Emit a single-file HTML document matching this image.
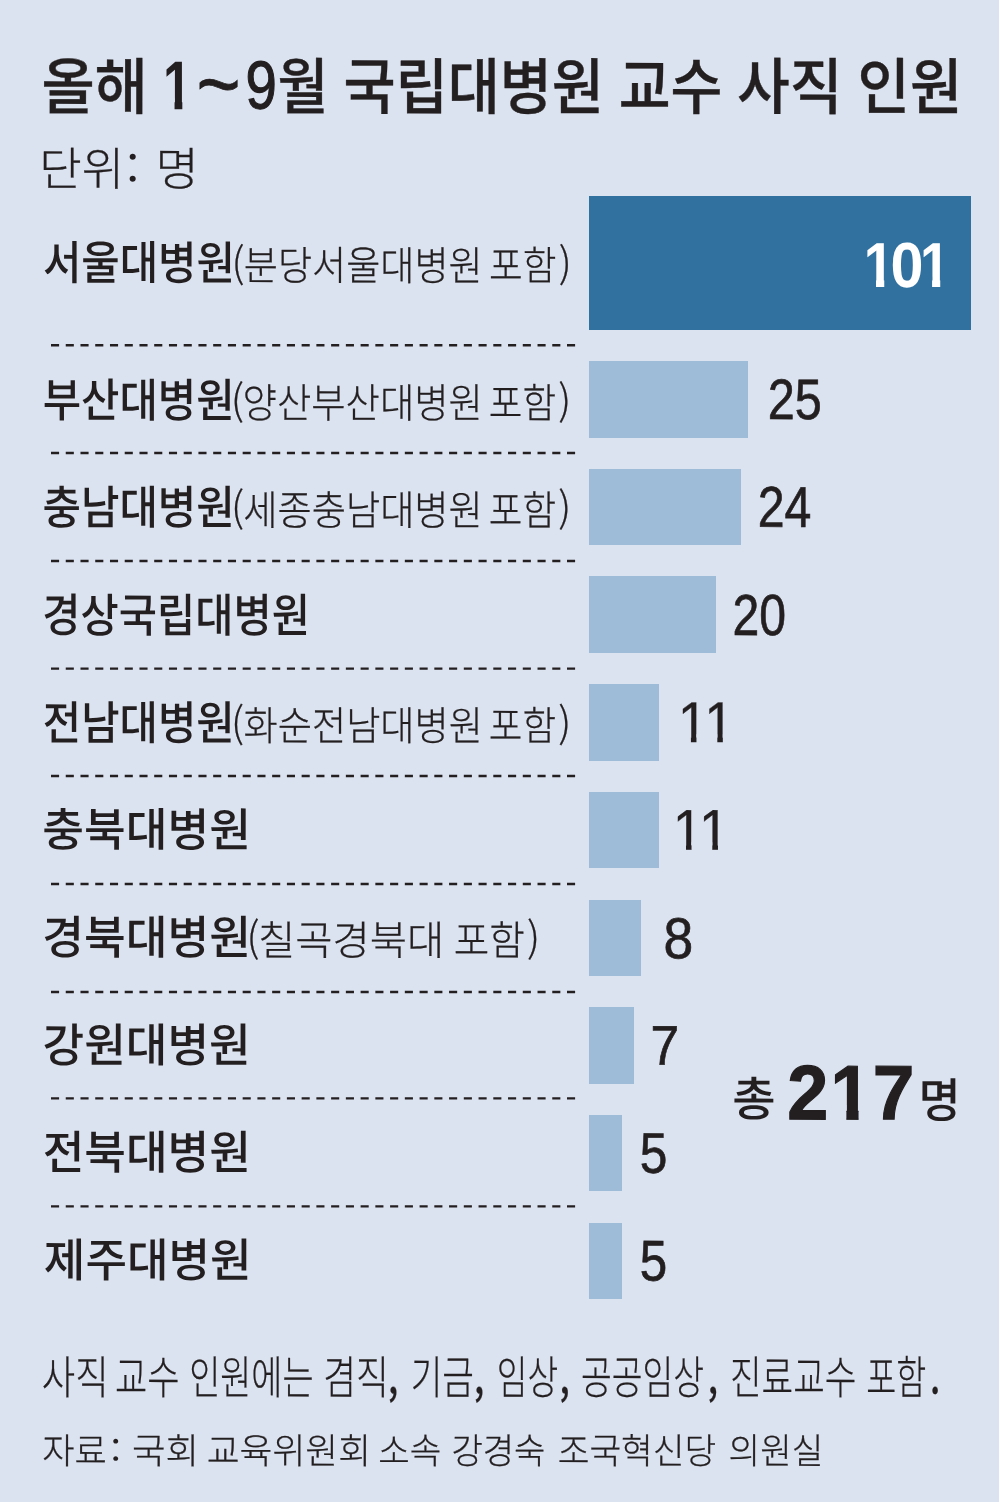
<!DOCTYPE html>
<html lang="ko">
<head>
<meta charset="utf-8">
<title>올해 1~9월 국립대병원 교수 사직 인원</title>
<style>
html,body{margin:0;padding:0;}
body{width:1000px;height:1502px;background:#dce3f0;position:relative;overflow:hidden;color:#231f20;font-family:"Liberation Sans","Noto Sans CJK KR",sans-serif;}
/* every text run is absolutely placed: translate(x,y) scaleX(condense); the tiny rotate keeps glyph rasterisation sub-pixel accurate */
.ln{position:absolute;left:0;top:0;margin:0;white-space:nowrap;line-height:1;}
.ln span{position:absolute;left:0;top:0;display:block;transform-origin:0 0;white-space:pre;line-height:1;}
/* Liberation Sans "1" has a foot serif; the reference face does not, so clip it away */
.o4{clip-path:polygon(-5% 0,105% 0,105% 70%,62.4% 70%,62.4% 100%,43.9% 100%,43.9% 70%,-5% 70%);}
.o7{clip-path:polygon(-5% 0,105% 0,105% 68%,68% 68%,68% 100%,40.6% 100%,40.6% 68%,-5% 68%);}
.o7s{clip-path:polygon(-5% 0,105% 0,105% 66%,69.4% 66%,69.4% 100%,39.2% 100%,39.2% 66%,-5% 66%);}
.bar{position:absolute;left:589px;background:#9ebcd8;}
.bar.d{background:#3171a0;}
.edge{position:absolute;left:999px;top:0;width:1px;height:1502px;background:#fdfeff;}
svg.dl{position:absolute;left:0;top:0;}
.ln span.pm{font-weight:500;}
.tk{font:500 61.29px/1 "Noto Sans CJK KR","Liberation Sans",sans-serif;-webkit-text-stroke:0.4px #231f20;}
.t1{font:700 69.18px/1 "Liberation Sans",sans-serif;}
.tt{font:400 88.66px/1 "Liberation Sans",sans-serif;-webkit-text-stroke:0.8px #231f20;}
.t9{font:400 67.93px/1 "Liberation Sans",sans-serif;-webkit-text-stroke:1.2px #231f20;}
.unit{font:300 45.93px/1 "Noto Sans CJK KR","Liberation Sans",sans-serif;-webkit-text-stroke:0.3px #231f20;}
.uc{font:400 42.89px/1 "Noto Sans CJK KR","Liberation Sans",sans-serif;}
.lb1{font:500 45.88px/1 "Noto Sans CJK KR","Liberation Sans",sans-serif;}
.lb2{font:500 45.99px/1 "Noto Sans CJK KR","Liberation Sans",sans-serif;}
.lb3{font:500 45.94px/1 "Noto Sans CJK KR","Liberation Sans",sans-serif;}
.lb4{font:500 46.08px/1 "Noto Sans CJK KR","Liberation Sans",sans-serif;}
.lb5{font:500 46.11px/1 "Noto Sans CJK KR","Liberation Sans",sans-serif;}
.lb6{font:500 45.61px/1 "Noto Sans CJK KR","Liberation Sans",sans-serif;}
.lb7{font:500 46.05px/1 "Noto Sans CJK KR","Liberation Sans",sans-serif;}
.lb8{font:500 46.08px/1 "Noto Sans CJK KR","Liberation Sans",sans-serif;}
.lb9{font:500 46.05px/1 "Noto Sans CJK KR","Liberation Sans",sans-serif;}
.lb10{font:500 45.96px/1 "Noto Sans CJK KR","Liberation Sans",sans-serif;}
.ll1{font:300 40.23px/1 "Noto Sans CJK KR","Liberation Sans",sans-serif;-webkit-text-stroke:0.3px #231f20;}
.lp1{font:300 41.13px/1 "Noto Sans CJK KR","Liberation Sans",sans-serif;-webkit-text-stroke:0.3px #231f20;}
.ll2{font:300 40.76px/1 "Noto Sans CJK KR","Liberation Sans",sans-serif;-webkit-text-stroke:0.3px #231f20;}
.lp2{font:300 41.42px/1 "Noto Sans CJK KR","Liberation Sans",sans-serif;-webkit-text-stroke:0.3px #231f20;}
.ll3{font:300 40.83px/1 "Noto Sans CJK KR","Liberation Sans",sans-serif;-webkit-text-stroke:0.3px #231f20;}
.lp3{font:300 41.31px/1 "Noto Sans CJK KR","Liberation Sans",sans-serif;-webkit-text-stroke:0.3px #231f20;}
.ll5{font:300 40.19px/1 "Noto Sans CJK KR","Liberation Sans",sans-serif;-webkit-text-stroke:0.3px #231f20;}
.lp5{font:300 41.43px/1 "Noto Sans CJK KR","Liberation Sans",sans-serif;-webkit-text-stroke:0.3px #231f20;}
.ll7{font:300 40.64px/1 "Noto Sans CJK KR","Liberation Sans",sans-serif;-webkit-text-stroke:0.3px #231f20;}
.lp7{font:300 41.11px/1 "Noto Sans CJK KR","Liberation Sans",sans-serif;-webkit-text-stroke:0.3px #231f20;}
.n1{font:700 63.70px/1 "Liberation Sans",sans-serif;color:#fff;}
.n2{font:400 57.09px/1 "Liberation Sans",sans-serif;-webkit-text-stroke:0.7px #231f20;}
.n3{font:400 57.56px/1 "Liberation Sans",sans-serif;-webkit-text-stroke:0.7px #231f20;}
.n4{font:400 57.83px/1 "Liberation Sans",sans-serif;-webkit-text-stroke:0.7px #231f20;}
.n7{font:400 57.72px/1 "Liberation Sans",sans-serif;-webkit-text-stroke:0.7px #231f20;}
.n8{font:400 55.90px/1 "Liberation Sans",sans-serif;-webkit-text-stroke:0.7px #231f20;}
.n9{font:400 57.10px/1 "Liberation Sans",sans-serif;-webkit-text-stroke:0.7px #231f20;}
.n10{font:400 57.48px/1 "Liberation Sans",sans-serif;-webkit-text-stroke:0.7px #231f20;}
.n5{font:400 57.49px/1 "Liberation Sans",sans-serif;-webkit-text-stroke:0.3px #231f20;}
.n6{font:400 57.63px/1 "Liberation Sans",sans-serif;-webkit-text-stroke:0.3px #231f20;}
.tot1{font:500 47.02px/1 "Noto Sans CJK KR","Liberation Sans",sans-serif;}
.totn{font:700 77.10px/1 "Liberation Sans",sans-serif;-webkit-text-stroke:1.2px #231f20;}
.tot2{font:500 47.13px/1 "Noto Sans CJK KR","Liberation Sans",sans-serif;}
.note{font:300 45.91px/1 "Noto Sans CJK KR","Liberation Sans",sans-serif;-webkit-text-stroke:0.3px #231f20;}
.sc{font:400 33.48px/1 "Noto Sans CJK KR","Liberation Sans",sans-serif;}
.src{font:300 35.84px/1 "Noto Sans CJK KR","Liberation Sans",sans-serif;-webkit-text-stroke:0.3px #231f20;}
</style>
</head>
<body>
<div class="bar d" style="top:195.5px;width:382.2px;height:134.5px"></div>
<div class="bar" style="top:361.4px;width:158.6px;height:76.6px"></div>
<div class="bar" style="top:469.2px;width:152px;height:75.8px"></div>
<div class="bar" style="top:576px;width:127px;height:76.6px"></div>
<div class="bar" style="top:684px;width:70px;height:77px"></div>
<div class="bar" style="top:792px;width:70px;height:76px"></div>
<div class="bar" style="top:900px;width:52px;height:76px"></div>
<div class="bar" style="top:1006.6px;width:45px;height:77.4px"></div>
<div class="bar" style="top:1114.6px;width:32.6px;height:76.9px"></div>
<div class="bar" style="top:1222.5px;width:32.6px;height:76px"></div>
<div class="edge"></div>
<svg class="dl" width="1000" height="1502" viewBox="0 0 1000 1502">
<g stroke="#231f20" stroke-width="2.4" stroke-dasharray="8.1 6.643">
<line x1="51" y1="345.2" x2="575.4" y2="345.2"/>
<line x1="51" y1="453" x2="575.4" y2="453"/>
<line x1="51" y1="561" x2="575.4" y2="561"/>
<line x1="51" y1="668.6" x2="575.4" y2="668.6"/>
<line x1="51" y1="776" x2="575.4" y2="776"/>
<line x1="51" y1="884" x2="575.4" y2="884"/>
<line x1="51" y1="992" x2="575.4" y2="992"/>
<line x1="51" y1="1098.4" x2="575.4" y2="1098.4"/>
<line x1="51" y1="1206.4" x2="575.4" y2="1206.4"/>
</g>
</svg>
<div class="ln"><span id="tk_0" class="tk" style="transform:translate(41.41px,51.85px) scaleX(0.9438) rotate(.03deg)">올해</span> <span id="t1_0" class="t1 o7" style="transform:translate(163.03px,51.13px) scaleX(0.7385) rotate(.03deg)">1</span><span id="tt_0" class="tt" style="transform:translate(196.54px,40.08px) scaleX(0.8514) rotate(.03deg)">~</span><span id="t9_0" class="t9" style="transform:translate(245.44px,51.56px) scaleX(0.8295) rotate(.03deg)">9</span><span id="tk_1" class="tk" style="transform:translate(277.60px,51.85px) scaleX(0.9028) rotate(.03deg)">월</span> <span id="tk_2" class="tk" style="transform:translate(343.59px,51.85px) scaleX(0.9235) rotate(.03deg)">국립대병원</span> <span id="tk_3" class="tk" style="transform:translate(618.73px,51.85px) scaleX(0.9198) rotate(.03deg)">교수</span> <span id="tk_4" class="tk" style="transform:translate(737.11px,51.85px) scaleX(0.9358) rotate(.03deg)">사직</span> <span id="tk_5" class="tk" style="transform:translate(857.64px,51.85px) scaleX(0.9279) rotate(.03deg)">인원</span></div>
<div class="ln"><span id="unit_0" class="unit" style="transform:translate(39.27px,143.47px) scaleX(1.0036) rotate(.03deg)">단위</span><span id="uc_0" class="uc" style="transform:translate(126.23px,145.20px) scaleX(1.0759) rotate(.03deg)">:</span> <span id="unit_1" class="unit" style="transform:translate(155.45px,143.47px) scaleX(1.0261) rotate(.03deg)">명</span></div>
<div class="ln"><span id="lb1_0" class="lb1" style="transform:translate(42.91px,237.33px) scaleX(0.9100) rotate(.03deg)">서울대병원</span> <span id="lp1_0" class="lp1" style="transform:translate(231.62px,242.31px) scaleX(0.9998) rotate(.03deg)">(</span><span id="ll1_0" class="ll1" style="transform:translate(243.80px,243.06px) scaleX(0.9223) rotate(.03deg)">분당서울대병원</span> <span id="ll1_1" class="ll1" style="transform:translate(489.00px,243.06px) scaleX(0.9098) rotate(.03deg)">포함</span><span id="lp1_1" class="lp1" style="transform:translate(558.73px,242.31px) scaleX(1.0069) rotate(.03deg)">)</span> <span id="n1_0" class="n1 o7" style="transform:translate(863.84px,233.06px) scaleX(0.8487) rotate(.03deg)">1</span><span id="n1_1" class="n1" style="transform:translate(890.49px,233.06px) scaleX(0.9311) rotate(.03deg)">0</span><span id="n1_2" class="n1 o7" style="transform:translate(920.01px,233.06px) scaleX(0.8411) rotate(.03deg)">1</span></div>
<div class="ln"><span id="lb2_0" class="lb2" style="transform:translate(42.65px,373.84px) scaleX(0.9074) rotate(.03deg)">부산대병원</span> <span id="lp2_0" class="lp2" style="transform:translate(230.83px,379.85px) scaleX(1.0091) rotate(.03deg)">(</span><span id="ll2_0" class="ll2" style="transform:translate(242.59px,380.67px) scaleX(0.9157) rotate(.03deg)">양산부산대병원</span> <span id="ll2_1" class="ll2" style="transform:translate(488.89px,380.67px) scaleX(0.8969) rotate(.03deg)">포함</span><span id="lp2_1" class="lp2" style="transform:translate(558.22px,379.85px) scaleX(0.9957) rotate(.03deg)">)</span> <span id="n2_0" class="n2" style="transform:translate(767.80px,371.10px) scaleX(0.8519) rotate(.03deg)">25</span></div>
<div class="ln"><span id="lb3_0" class="lb3" style="transform:translate(42.64px,481.96px) scaleX(0.9087) rotate(.03deg)">충남대병원</span> <span id="lp3_0" class="lp3" style="transform:translate(230.91px,486.84px) scaleX(0.9951) rotate(.03deg)">(</span><span id="ll3_0" class="ll3" style="transform:translate(243.21px,487.93px) scaleX(0.9114) rotate(.03deg)">세종충남대병원</span> <span id="ll3_1" class="ll3" style="transform:translate(488.82px,487.93px) scaleX(0.8950) rotate(.03deg)">포함</span><span id="lp3_1" class="lp3" style="transform:translate(558.26px,486.84px) scaleX(1.0004) rotate(.03deg)">)</span> <span id="n3_0" class="n3" style="transform:translate(757.80px,478.87px) scaleX(0.8376) rotate(.03deg)">24</span></div>
<div class="ln"><span id="lb4_0" class="lb4" style="transform:translate(42.36px,588.86px) scaleX(0.9015) rotate(.03deg)">경상국립대병원</span> <span id="n4_0" class="n4" style="transform:translate(732.47px,587.02px) scaleX(0.8324) rotate(.03deg)">20</span></div>
<div class="ln"><span id="lb5_0" class="lb5" style="transform:translate(42.88px,696.51px) scaleX(0.9038) rotate(.03deg)">전남대병원</span> <span id="lp5_0" class="lp5" style="transform:translate(231.00px,702.23px) scaleX(0.9906) rotate(.03deg)">(</span><span id="ll5_0" class="ll5" style="transform:translate(243.64px,703.15px) scaleX(0.9245) rotate(.03deg)">화순전남대병원</span> <span id="ll5_1" class="ll5" style="transform:translate(488.89px,703.15px) scaleX(0.9088) rotate(.03deg)">포함</span><span id="lp5_1" class="lp5" style="transform:translate(558.16px,702.23px) scaleX(0.9999) rotate(.03deg)">)</span> <span id="n5_0" class="n5 o4" style="transform:translate(677.75px,694.00px) scaleX(0.9390) rotate(.03deg)">1</span><span id="n5_1" class="n5 o4" style="transform:translate(704.25px,694.00px) scaleX(0.9321) rotate(.03deg)">1</span></div>
<div class="ln"><span id="lb6_0" class="lb6" style="transform:translate(42.36px,804.06px) scaleX(0.9938) rotate(.03deg)">충북대병원</span> <span id="n6_0" class="n6 o4" style="transform:translate(672.87px,801.79px) scaleX(0.9339) rotate(.03deg)">1</span><span id="n6_1" class="n6 o4" style="transform:translate(698.85px,801.79px) scaleX(0.9572) rotate(.03deg)">1</span></div>
<div class="ln"><span id="lb7_0" class="lb7" style="transform:translate(42.33px,910.90px) scaleX(0.9850) rotate(.03deg)">경북대병원</span> <span id="lp7_0" class="lp7" style="transform:translate(246.60px,916.71px) scaleX(0.9980) rotate(.03deg)">(</span><span id="ll7_0" class="ll7" style="transform:translate(258.07px,917.90px) scaleX(0.9968) rotate(.03deg)">칠곡경북대</span> <span id="ll7_1" class="ll7" style="transform:translate(453.82px,917.90px) scaleX(0.9502) rotate(.03deg)">포함</span><span id="lp7_1" class="lp7" style="transform:translate(527.08px,916.71px) scaleX(1.0153) rotate(.03deg)">)</span> <span id="n7_0" class="n7" style="transform:translate(663.52px,910.21px) scaleX(0.9253) rotate(.03deg)">8</span></div>
<div class="ln"><span id="lb8_0" class="lb8" style="transform:translate(42.56px,1018.66px) scaleX(0.9817) rotate(.03deg)">강원대병원</span> <span id="n8_0" class="n8" style="transform:translate(650.63px,1017.80px) scaleX(0.9225) rotate(.03deg)">7</span></div>
<div class="ln"><span id="tot1_0" class="tot1" style="transform:translate(732.24px,1071.73px) scaleX(1.0015) rotate(.03deg)">총</span> <span id="totn_0" class="totn" style="transform:translate(787.28px,1054.17px) scaleX(0.9565) rotate(.03deg)">2</span><span id="totn_1" class="totn o7s" style="transform:translate(830.61px,1054.17px) scaleX(0.9395) rotate(.03deg)">1</span><span id="totn_2" class="totn" style="transform:translate(872.67px,1054.17px) scaleX(0.9701) rotate(.03deg)">7</span> <span id="tot2_0" class="tot2" style="transform:translate(918.52px,1073.20px) scaleX(0.9727) rotate(.03deg)">명</span></div>
<div class="ln"><span id="lb9_0" class="lb9" style="transform:translate(42.70px,1125.89px) scaleX(0.9831) rotate(.03deg)">전북대병원</span> <span id="n9_0" class="n9" style="transform:translate(639.71px,1124.78px) scaleX(0.8692) rotate(.03deg)">5</span></div>
<div class="ln"><span id="lb10_0" class="lb10" style="transform:translate(43.89px,1234.77px) scaleX(0.9827) rotate(.03deg)">제주대병원</span> <span id="n10_0" class="n10" style="transform:translate(639.70px,1232.46px) scaleX(0.8582) rotate(.03deg)">5</span></div>
<div class="ln"><span id="note_0" class="note" style="transform:translate(41.87px,1351.96px) scaleX(0.7896) rotate(.03deg)">사직</span> <span id="note_1" class="note" style="transform:translate(114.97px,1351.96px) scaleX(0.7635) rotate(.03deg)">교수</span> <span id="note_2" class="note" style="transform:translate(189.15px,1351.96px) scaleX(0.7365) rotate(.03deg)">인원에는</span> <span id="note_3" class="note" style="transform:translate(323.32px,1351.96px) scaleX(0.7766) rotate(.03deg)">겸직</span><span id="note_4" class="note pm" style="transform:translate(388.04px,1351.96px) scaleX(0.7475) rotate(.03deg)">,</span> <span id="note_5" class="note" style="transform:translate(410.66px,1351.96px) scaleX(0.7486) rotate(.03deg)">기금</span><span id="note_6" class="note pm" style="transform:translate(473.94px,1351.96px) scaleX(0.7475) rotate(.03deg)">,</span> <span id="note_7" class="note" style="transform:translate(496.86px,1351.96px) scaleX(0.7262) rotate(.03deg)">임상</span><span id="note_8" class="note pm" style="transform:translate(559.50px,1351.96px) scaleX(0.7475) rotate(.03deg)">,</span> <span id="note_9" class="note" style="transform:translate(580.90px,1351.96px) scaleX(0.7290) rotate(.03deg)">공공임상</span><span id="note_10" class="note pm" style="transform:translate(707.82px,1351.96px) scaleX(0.7475) rotate(.03deg)">,</span> <span id="note_11" class="note" style="transform:translate(729.99px,1351.96px) scaleX(0.7480) rotate(.03deg)">진료교수</span> <span id="note_12" class="note" style="transform:translate(866.36px,1351.96px) scaleX(0.7095) rotate(.03deg)">포함</span><span id="note_13" class="note pm" style="transform:translate(930.02px,1351.96px) scaleX(0.7475) rotate(.03deg)">.</span></div>
<div class="ln"><span id="src_0" class="src" style="transform:translate(42.30px,1430.65px) scaleX(0.9786) rotate(.03deg)">자료</span><span id="sc_0" class="sc" style="transform:translate(110.47px,1432.43px) scaleX(1.1163) rotate(.03deg)">:</span> <span id="src_1" class="src" style="transform:translate(131.93px,1430.65px) scaleX(1.0154) rotate(.03deg)">국회</span> <span id="src_2" class="src" style="transform:translate(206.76px,1430.65px) scaleX(0.9973) rotate(.03deg)">교육위원회</span> <span id="src_3" class="src" style="transform:translate(378.18px,1430.65px) scaleX(0.9545) rotate(.03deg)">소속</span> <span id="src_4" class="src" style="transform:translate(451.40px,1430.65px) scaleX(0.9511) rotate(.03deg)">강경숙</span> <span id="src_5" class="src" style="transform:translate(557.68px,1430.65px) scaleX(0.9624) rotate(.03deg)">조국혁신당</span> <span id="src_6" class="src" style="transform:translate(728.56px,1430.65px) scaleX(0.9583) rotate(.03deg)">의원실</span></div>
</body>
</html>
